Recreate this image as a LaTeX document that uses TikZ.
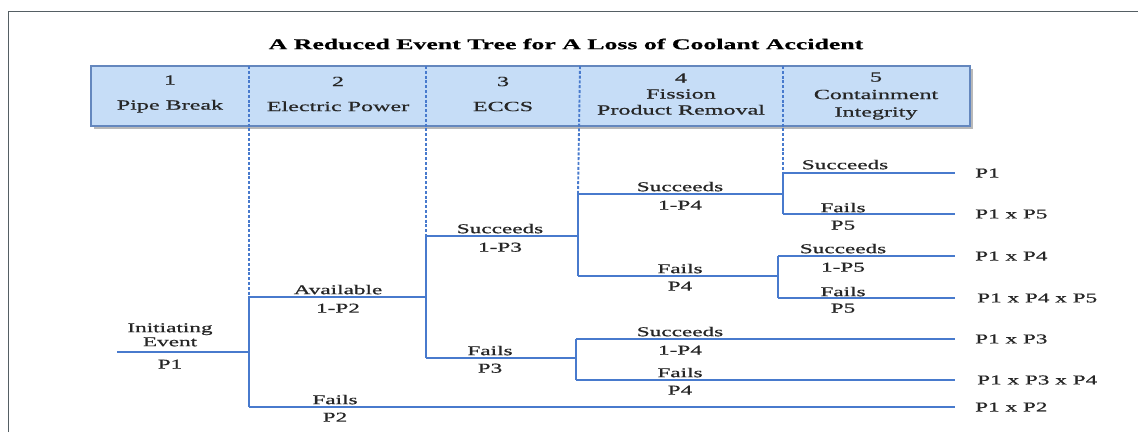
\documentclass[tikz,border=0pt]{standalone}
\usepackage{fontspec}
\setmainfont{Liberation Serif}[FakeStretch=1.72, FakeBold=0.7]
\usetikzlibrary{positioning}
\definecolor{treeblue}{RGB}{72,122,205}
\definecolor{headfill}{RGB}{198,221,247}
\definecolor{headline}{RGB}{100,135,190}
\definecolor{framegray}{RGB}{85,95,100}
\begin{document}
\begin{tikzpicture}[
    x=1pt, y=-1pt,
    font=\fontsize{13.5}{14}\selectfont,
    branch/.style={draw=treeblue, line width=1.5pt},
    divider/.style={draw=treeblue, line width=1.9pt, dash pattern=on 3pt off 1.8pt},
    lbl/.style={inner sep=1.5pt, align=center, text=black!85},
    head/.style={lbl, font=\fontsize{14}{16}\selectfont},
    outcome/.style={inner sep=0pt, anchor=west, text=black!85}
]
    \useasboundingbox (0,0) rectangle (1138,432);
    \fill[white] (0,0) rectangle (1138,432);
    \draw[framegray, line width=1pt] (8,432) -- (8,11) -- (1138,11);

    \node[font=\fontsize{15}{17}\selectfont\bfseries] (title) at (566,44)
        {A Reduced Event Tree for A Loss of Coolant Accident};

    % header band with shadow
    \fill[gray!55] (94,69) rectangle (973,129);
    \draw[fill=headfill, draw=headline, line width=1.4pt] (91,66) rectangle (970,126);
    \node[head] (h1) at (170,94) {1\\[9pt]Pipe Break};
    \node[head] (h2) at (338,94) {2\\[9pt]Electric Power};
    \node[head] (h3) at (503,94) {3\\[9pt]ECCS};
    \node[head] (h4) at (681,94) {4\\Fission\\Product Removal};
    \node[head, font=\fontsize{14}{17.5}\selectfont] (h5) at (876,96) {5\\Containment\\Integrity};

    % branch points
    \coordinate (ie) at (117,352);
    \coordinate (j1) at (249,352);
    \coordinate (av) at (249,297);
    \coordinate (f2) at (249,407);
    \coordinate (j2) at (426,297);
    \coordinate (s3) at (426,236);
    \coordinate (f3) at (426,358);
    \coordinate (j3) at (578,236);
    \coordinate (s4) at (578,194);
    \coordinate (f4) at (578,276);
    \coordinate (j4) at (783,194);
    \coordinate (s5) at (783,173);
    \coordinate (f5) at (783,214);
    \coordinate (j5) at (778,276);
    \coordinate (s5b) at (778,256);
    \coordinate (f5b) at (778,298);
    \coordinate (j6) at (576,358);
    \coordinate (s4b) at (576,339);
    \coordinate (f4b) at (576,380);

    % end points and outcomes
    \coordinate (e1) at (955,173);
    \coordinate (e2) at (955,214);
    \coordinate (e3) at (955,256);
    \coordinate (e4) at (955,298);
    \coordinate (e5) at (955,339);
    \coordinate (e6) at (955,380);
    \coordinate (e7) at (955,407);
    \node[outcome, right=20pt of e1] (o1) {P1};
    \node[outcome, right=20pt of e2] (o2) {P1 x P5};
    \node[outcome, right=20pt of e3] (o3) {P1 x P4};
    \node[outcome, right=22pt of e4] (o4) {P1 x P4 x P5};
    \node[outcome, right=20pt of e5] (o5) {P1 x P3};
    \node[outcome, right=22pt of e6] (o6) {P1 x P3 x P4};
    \node[outcome, right=20pt of e7] (o7) {P1 x P2};

    % dashed column dividers
    \draw[divider] (249,66) -- (av);
    \draw[divider] (426,66) -- (s3);
    \draw[divider] (580,66) -- (s4);
    \draw[divider] (783,66) -- (s5);

    \draw[branch] (ie) -- (j1);
    \draw[branch] (av) -- (f2);
    \draw[branch] (av) -- (j2);
    \draw[branch] (f2) -- (e7);
    \draw[branch] (s3) -- (f3);
    \draw[branch] (s3) -- (j3);
    \draw[branch] (f3) -- (j6);
    \draw[branch] (s4) -- (f4);
    \draw[branch] (s4) -- (j4);
    \draw[branch] (f4) -- (j5);
    \draw[branch] (s5) -- (f5);
    \draw[branch] (s5) -- (e1);
    \draw[branch] (f5) -- (e2);
    \draw[branch] (s5b) -- (f5b);
    \draw[branch] (s5b) -- (e3);
    \draw[branch] (f5b) -- (e4);
    \draw[branch] (s4b) -- (f4b);
    \draw[branch] (s4b) -- (e5);
    \draw[branch] (f4b) -- (e6);

    % branch labels
    \node[lbl, above=4pt] (l1a) at (170,352) {Initiating\\Event};
    \node[lbl, below=6pt] (l1b) at (170,352) {P1};
    \node[lbl, above=1pt] (l2a) at (338,297) {Available};
    \node[lbl, below=5pt] (l2b) at (338,297) {1-P2};
    \node[lbl, above=1pt] (l3a) at (335,407) {Fails};
    \node[lbl, below=4pt] (l3b) at (335,407) {P2};
    \node[lbl, above=1pt] (l4a) at (500,236) {Succeeds};
    \node[lbl, below=5pt] (l4b) at (500,236) {1-P3};
    \node[lbl, above=1pt] (l5a) at (490,358) {Fails};
    \node[lbl, below=4pt] (l5b) at (490,358) {P3};
    \node[lbl, above=1pt] (l6a) at (680,194) {Succeeds};
    \node[lbl, below=5pt] (l6b) at (680,194) {1-P4};
    \node[lbl, above=1pt] (l7a) at (680,276) {Fails};
    \node[lbl, below=4pt] (l7b) at (680,276) {P4};
    \node[lbl, above=1pt] (l8a) at (680,339) {Succeeds};
    \node[lbl, below=5pt] (l8b) at (680,339) {1-P4};
    \node[lbl, above=1pt] (l9a) at (680,380) {Fails};
    \node[lbl, below=4pt] (l9b) at (680,380) {P4};
    \node[lbl, above=2pt] (l10a) at (845,173) {Succeeds};
    \node[lbl, above=0pt] (l11a) at (843,214) {Fails};
    \node[lbl, below=5pt] (l11b) at (843,214) {P5};
    \node[lbl, above=1pt] (l12a) at (843,256) {Succeeds};
    \node[lbl, below=5pt] (l12b) at (843,256) {1-P5};
    \node[lbl, above=0pt] (l13a) at (843,298) {Fails};
    \node[lbl, below=4pt] (l13b) at (843,298) {P5};
\end{tikzpicture}
\end{document}
